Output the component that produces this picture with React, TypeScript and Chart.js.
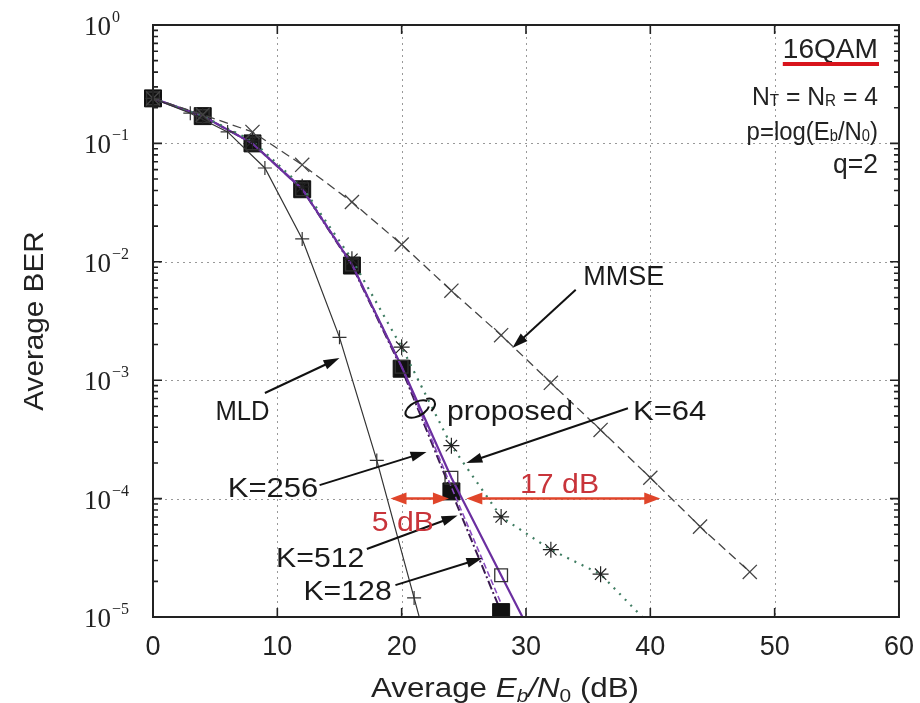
import React, { useEffect, useRef } from 'react';
import { Chart, registerables } from 'chart.js';
Chart.register(...registerables);

// ---------- data ----------
const snrMLD = [0, 3, 6, 9, 12, 15, 18, 21, 22];
const berMLD = [0.24, 0.18, 0.125, 0.062, 0.0156, 0.0023, 2.1e-4, 1.45e-5, 5.9e-6];

const snrMMSE = [0, 4, 8, 12, 16, 20, 24, 28, 32, 36, 40, 44, 48];
const berMMSE = [0.24, 0.175, 0.125, 0.066, 0.032, 0.014, 0.0057, 0.0024, 9.5e-4, 3.8e-4, 1.5e-4, 5.8e-5, 2.4e-5];

const snrK64 = [0, 4, 8, 12, 16, 20, 24, 28, 32, 36, 40];
const berK64 = [0.24, 0.17, 0.105, 0.043, 0.0105, 0.0019, 2.8e-4, 7e-5, 3.7e-5, 2.3e-5, 8.5e-6];

const snrK128 = [0, 4, 8, 12, 16, 20, 24, 28, 32];
const berK128 = [0.24, 0.17, 0.1, 0.041, 0.0095, 0.0013, 1.5e-4, 2.25e-5, 3.4e-6];

const snrK256 = [0, 4, 8, 12, 16, 20, 24, 28];
const berK256 = [0.24, 0.17, 0.1, 0.042, 0.0096, 0.0013, 1.25e-4, 1.3e-5];

const snrK512 = [0, 4, 8, 12, 16, 20, 24, 28];
const berK512 = [0.24, 0.17, 0.1, 0.041, 0.0093, 0.00125, 1.15e-4, 1.1e-5];

const xTicks = [0, 10, 20, 30, 40, 50, 60];
const yDecades = [0, -1, -2, -3, -4, -5];

// annotation texts (data units)
const notes = [
  { text: 'MMSE', x: 34.6, y: 7.7e-3, align: 'left', sx: 1.0 },
  { text: 'MLD', x: 7.2, y: 5.6e-4, align: 'center', sx: 0.95 },
  { text: 'proposed', x: 23.65, y: 5.6e-4, align: 'left', sx: 1.12 },
  { text: 'K=64', x: 38.6, y: 5.6e-4, align: 'left', sx: 1.15 },
  { text: 'K=256', x: 13.3, y: 1.26e-4, align: 'right', sx: 1.15 },
  { text: 'K=512', x: 17.0, y: 3.2e-5, align: 'right', sx: 1.12 },
  { text: 'K=128', x: 19.2, y: 1.7e-5, align: 'right', sx: 1.12 },
];
const arrows = [
  { from: [34.0, 5.8e-3], to: [28.9, 1.87e-3] },
  { from: [9.0, 7.8e-4], to: [15.0, 1.54e-3] },
  { from: [38.2, 5.8e-4], to: [25.2, 2.0e-4] },
  { from: [13.4, 1.3e-4], to: [22.0, 2.48e-4] },
  { from: [17.2, 3.75e-5], to: [24.5, 7.2e-5] },
  { from: [19.5, 1.86e-5], to: [26.5, 3.15e-5] },
];
const gapArrows = [
  { from: 19.1, to: 23.8, y: 1e-4, label: '5 dB', lx: 20.1, ly: 6.5e-5 },
  { from: 25.2, to: 40.8, y: 1e-4, label: '17 dB', lx: 32.7, ly: 1.35e-4 },
];

const SANS = '"Liberation Sans", Arial, Helvetica, sans-serif';
const SERIF = '"Liberation Serif", "Times New Roman", serif';

type Seg = { t: string; size: number; italic?: boolean; dy?: number };

function richWidth(ctx: CanvasRenderingContext2D, segs: Seg[]) {
  let w = 0;
  for (const s of segs) {
    ctx.font = `${s.italic ? 'italic ' : ''}${s.size}px ${SANS}`;
    w += ctx.measureText(s.t).width;
  }
  return w;
}
function drawRich(ctx: CanvasRenderingContext2D, segs: Seg[], x: number, y: number, align: string, sx = 1) {
  const w = richWidth(ctx, segs) * sx;
  const start = align === 'right' ? x - w : align === 'center' ? x - w / 2 : x;
  ctx.save();
  ctx.translate(start, y);
  ctx.scale(sx, 1);
  ctx.textAlign = 'left';
  ctx.textBaseline = 'alphabetic';
  let cx = 0;
  for (const s of segs) {
    ctx.font = `${s.italic ? 'italic ' : ''}${s.size}px ${SANS}`;
    ctx.fillText(s.t, cx, s.dy || 0);
    cx += ctx.measureText(s.t).width;
  }
  ctx.restore();
  return w;
}
function arrowHead(ctx: CanvasRenderingContext2D, x1: number, y1: number, x2: number, y2: number, len: number, half: number) {
  const a = Math.atan2(y2 - y1, x2 - x1);
  ctx.beginPath();
  ctx.moveTo(x2, y2);
  ctx.lineTo(x2 - len * Math.cos(a) + half * Math.sin(a), y2 - len * Math.sin(a) - half * Math.cos(a));
  ctx.lineTo(x2 - len * Math.cos(a) - half * Math.sin(a), y2 - len * Math.sin(a) + half * Math.cos(a));
  ctx.closePath();
  ctx.fill();
}

const decorPlugin = {
  id: 'decor',
  beforeDatasetsDraw(chart: any) {
    const { ctx, chartArea: a, scales } = chart;
    const xs = scales.x, ys = scales.y;
    ctx.save();
    ctx.strokeStyle = '#999';
    ctx.lineWidth = 1;
    ctx.setLineDash([2, 4]);
    for (const v of xTicks) {
      if (v === xTicks[0] || v === xTicks[xTicks.length - 1]) continue;
      const px = Math.round(xs.getPixelForValue(v)) + 0.5;
      ctx.beginPath(); ctx.moveTo(px, a.top); ctx.lineTo(px, a.bottom); ctx.stroke();
    }
    for (const d of yDecades) {
      if (d === 0 || d === -5) continue;
      const py = Math.round(ys.getPixelForValue(Math.pow(10, d))) + 0.5;
      ctx.beginPath(); ctx.moveTo(a.left, py); ctx.lineTo(a.right, py); ctx.stroke();
    }
    ctx.restore();
  },
  afterDatasetsDraw(chart: any) {
    const { ctx, chartArea: a, scales } = chart;
    const xs = scales.x, ys = scales.y;
    const P = (x: number, y: number) => [xs.getPixelForValue(x), ys.getPixelForValue(y)];
    ctx.save();
    ctx.setLineDash([]);
    // frame
    ctx.strokeStyle = '#222';
    ctx.lineWidth = 2;
    ctx.strokeRect(a.left, a.top, a.right - a.left, a.bottom - a.top);
    // x ticks (inward, top and bottom)
    ctx.lineWidth = 1.6;
    for (const v of xTicks) {
      const px = xs.getPixelForValue(v);
      ctx.beginPath();
      ctx.moveTo(px, a.bottom); ctx.lineTo(px, a.bottom - 9);
      ctx.moveTo(px, a.top); ctx.lineTo(px, a.top + 9);
      ctx.stroke();
    }
    // y ticks
    for (const d of yDecades) {
      const py = ys.getPixelForValue(Math.pow(10, d));
      ctx.beginPath();
      ctx.moveTo(a.left, py); ctx.lineTo(a.left + 9, py);
      ctx.moveTo(a.right, py); ctx.lineTo(a.right - 9, py);
      ctx.stroke();
      if (d < 0) {
        for (let k = 2; k <= 9; k++) {
          const pm = ys.getPixelForValue(k * Math.pow(10, d));
          ctx.beginPath();
          ctx.moveTo(a.left, pm); ctx.lineTo(a.left + 5, pm);
          ctx.moveTo(a.right, pm); ctx.lineTo(a.right - 5, pm);
          ctx.stroke();
        }
      }
    }
    // y tick labels with superscripts
    ctx.fillStyle = '#222';
    for (const d of yDecades) {
      const py = ys.getPixelForValue(Math.pow(10, d));
      ctx.font = `27px ${SERIF}`;
      ctx.textAlign = 'right';
      ctx.textBaseline = 'alphabetic';
      ctx.fillText('10', a.left - 42, py + 10);
      ctx.font = `16px ${SERIF}`;
      ctx.textAlign = 'left';
      ctx.fillText(d === 0 ? '0' : '\u2212' + String(-d), a.left - 41, py - 3);
    }
    // axis titles
    ctx.fillStyle = '#222';
    drawRich(ctx, [
      { t: 'Average ', size: 27 },
      { t: 'E', size: 27, italic: true },
      { t: 'b', size: 18, italic: true, dy: 5 },
      { t: '/N', size: 27, italic: true },
      { t: '0', size: 18, dy: 5 },
      { t: ' (dB)', size: 27 },
    ], 505, 697, 'center', 1.16);
    ctx.save();
    ctx.translate(33, (a.top + a.bottom) / 2);
    ctx.rotate(-Math.PI / 2);
    drawRich(ctx, [{ t: 'Average BER', size: 28 }], 0, 10, 'center', 1.06);
    ctx.restore();

    // legend text block (top right)
    const rx = a.right - 21;
    ctx.fillStyle = '#222';
    const w16 = drawRich(ctx, [{ t: '16QAM', size: 27 }], rx, 58, 'right', 1.04);
    ctx.fillStyle = '#d8141c';
    ctx.fillRect(rx - w16, 62, w16 + 1, 4);
    ctx.fillStyle = '#222';
    drawRich(ctx, [
      { t: 'N', size: 26 }, { t: 'T', size: 16, dy: 1 }, { t: ' = N', size: 26 }, { t: 'R', size: 16, dy: 1 }, { t: ' = 4', size: 26 },
    ], rx, 105, 'right', 0.95);
    drawRich(ctx, [
      { t: 'p=log(E', size: 26 }, { t: 'b', size: 16, dy: 1 }, { t: '/N', size: 26 }, { t: '0', size: 16, dy: 1 }, { t: ')', size: 26 },
    ], rx, 140, 'right', 0.92);
    drawRich(ctx, [{ t: 'q=2', size: 27 }], rx, 173, 'right', 0.98);

    // annotation arrows
    ctx.strokeStyle = '#111';
    ctx.fillStyle = '#111';
    ctx.lineWidth = 2;
    for (const ar of arrows) {
      const [x1, y1] = P(ar.from[0], ar.from[1]);
      const [x2, y2] = P(ar.to[0], ar.to[1]);
      const ang = Math.atan2(y2 - y1, x2 - x1);
      ctx.beginPath();
      ctx.moveTo(x1, y1);
      ctx.lineTo(x2 - 10 * Math.cos(ang), y2 - 10 * Math.sin(ang));
      ctx.stroke();
      arrowHead(ctx, x1, y1, x2, y2, 16, 5);
    }
    // texts
    ctx.fillStyle = '#1a1a1a';
    for (const n of notes) {
      const [px, py] = P(n.x, n.y);
      drawRich(ctx, [{ t: n.text, size: 27 }], px, py + 10, n.align, n.sx);
    }
    // curl for "proposed"
    {
      const [cx, cy] = P(21.5, 5.94e-4);
      ctx.strokeStyle = '#111';
      ctx.lineWidth = 2;
      ctx.beginPath();
      ctx.ellipse(cx - 3, cy + 2, 13, 7, -0.5, 0.5, Math.PI * 2 - 0.3);
      ctx.stroke();
      ctx.beginPath();
      ctx.moveTo(cx + 6, cy - 8);
      ctx.bezierCurveTo(cx + 14, cy - 10, cx + 18, cy - 3, cx + 11, cy + 4);
      ctx.stroke();
    }
    // red gap arrows
    for (const g of gapArrows) {
      const [x1, py] = P(g.from, g.y);
      const [x2] = P(g.to, g.y);
      ctx.strokeStyle = '#e0452a';
      ctx.fillStyle = '#e0452a';
      ctx.lineWidth = 2.5;
      ctx.beginPath();
      ctx.moveTo(x1 + 10, py); ctx.lineTo(x2 - 10, py);
      ctx.stroke();
      arrowHead(ctx, x2, py, x1, py, 16, 6);
      arrowHead(ctx, x1, py, x2, py, 16, 6);
      const [lx, ly] = P(g.lx, g.ly);
      ctx.fillStyle = '#c8343a';
      drawRich(ctx, [{ t: g.label, size: 27 }], lx, ly + 10, 'center', 1.12);
    }
    ctx.restore();
  },
};

function pts(xs: number[], ys: number[]) {
  return xs.map((x, i) => ({ x, y: ys[i] }));
}

export default function App() {
  const ref = useRef<HTMLCanvasElement | null>(null);
  useEffect(() => {
    if (!ref.current) return;
    const clip = { left: 14, top: 14, right: 14, bottom: 0 };
    const chart = new Chart(ref.current, {
      type: 'line',
      data: {
        datasets: [
          {
            label: 'MMSE', data: pts(snrMMSE, berMMSE), borderColor: '#444', borderWidth: 1.3,
            borderDash: [9, 5], pointStyle: 'crossRot', pointRadius: 10, pointBorderColor: '#444',
            pointBorderWidth: 1.3, backgroundColor: 'transparent', clip,
          },
          {
            label: 'MLD', data: pts(snrMLD, berMLD), borderColor: '#333', borderWidth: 1.2,
            pointStyle: 'cross', pointRadius: 7, pointBorderColor: '#333', pointBorderWidth: 1.2,
            backgroundColor: 'transparent', clip,
          },
          {
            label: 'K=64', data: pts(snrK64, berK64), borderColor: '#3f7d62', borderWidth: 2.2,
            borderDash: [2, 6], pointStyle: 'star', pointRadius: 8, pointBorderColor: '#222',
            pointBorderWidth: 1.2, backgroundColor: 'transparent', clip,
          },
          {
            label: 'K=128', data: pts(snrK128, berK128), borderColor: '#6b2fa0', borderWidth: 2.2,
            pointStyle: 'rect', pointRadius: 9, pointBorderColor: '#333', pointBorderWidth: 1.3,
            pointBackgroundColor: 'rgba(255,255,255,0)', backgroundColor: 'transparent', clip,
          },
          {
            label: 'K=256', data: pts(snrK256, berK256), borderColor: '#8a4cc0', borderWidth: 1.6,
            borderDash: [6, 3], pointRadius: 0, backgroundColor: 'transparent', clip,
          },
          {
            label: 'K=512', data: pts(snrK512, berK512), borderColor: '#3a1a50', borderWidth: 2,
            borderDash: [9, 3, 2, 3], pointStyle: 'rect', pointRadius: 12, pointBorderColor: '#111',
            pointBackgroundColor: '#111', pointBorderWidth: 1, backgroundColor: 'transparent', clip,
          },
        ],
      },
      options: {
        animation: false,
        responsive: false,
        maintainAspectRatio: false,
        layout: { padding: { top: 25, right: 21, left: 0, bottom: 0 } },
        plugins: { legend: { display: false }, tooltip: { enabled: false }, title: { display: false } },
        elements: { line: { tension: 0 } },
        scales: {
          x: {
            type: 'linear', min: 0, max: 60,
            afterFit: (s: any) => { s.height = 86; },
            afterBuildTicks: (s: any) => { s.ticks = xTicks.map((v) => ({ value: v })); },
            grid: { display: false },
            border: { display: false },
            ticks: {
              font: { family: SANS, size: 27 }, color: '#222', padding: 6, maxRotation: 0,
              autoSkip: false,
            },
          },
          y: {
            type: 'logarithmic', min: 1e-5, max: 1,
            afterFit: (s: any) => { s.width = 153; },
            grid: { display: false },
            border: { display: false },
            ticks: { display: false },
          },
        },
      },
      plugins: [decorPlugin],
    } as any);
    return () => chart.destroy();
  }, []);
  return (
    <canvas
      ref={ref}
      width={920}
      height={703}
      style={{ position: 'fixed', left: 0, top: 0, width: 920, height: 703, background: '#fff' }}
    />
  );
}
